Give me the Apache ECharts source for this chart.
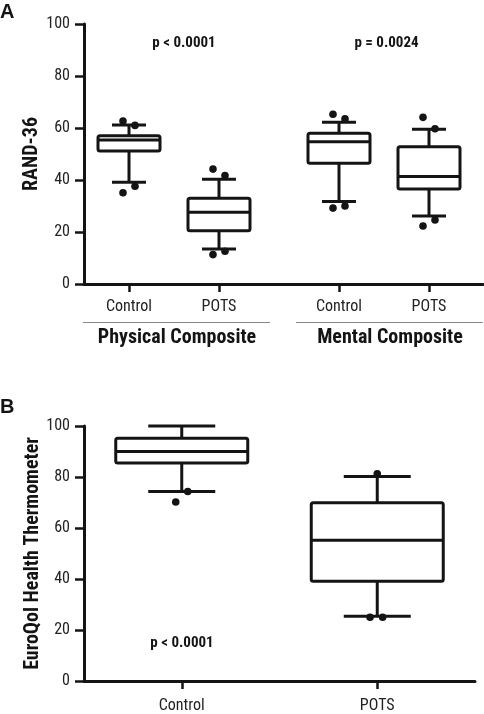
<!DOCTYPE html>
<html>
<head>
<meta charset="utf-8">
<script src="https://cdn.jsdelivr.net/npm/echarts@6/dist/echarts.min.js"></script>
<style>html,body{margin:0;padding:0;background:#fff}#c{width:484px;height:714px}</style>
</head>
<body>
<div id="c"></div>
<script>
// ---------- DATA ----------
// Panel A (RAND-36)
const catsA = ['Control', 'POTS', 'Control', 'POTS'];
const groupsA = ['Physical Composite', 'Mental Composite'];
// [low whisker, Q1, median, Q3, high whisker]
const boxA_PhysControl = [39.1, 51.2, 55.4, 57.0, 61.2];
const boxA_PhysPOTS    = [13.5, 20.5, 27.6, 33.0, 40.3];
const boxA_MentControl = [31.7, 46.4, 54.7, 58.0, 62.2];
const boxA_MentPOTS    = [26.2, 36.5, 41.3, 52.8, 59.5];
// outliers per box: [high-left, high-right, low-left, low-right]
const outA_PhysControl = [62.7, 61.0, 35.1, 37.6];
const outA_PhysPOTS    = [44.2, 41.7, 11.3, 12.6];
const outA_MentControl = [65.3, 63.5, 29.2, 30.0];
const outA_MentPOTS    = [64.1, 59.7, 22.3, 24.6];
const pTextA = ['p < 0.0001', 'p = 0.0024'];

// Panel B (EuroQol)
const catsB = ['Control', 'POTS'];
const boxB_Control = [74.3, 85.5, 90.0, 95.2, 100.0];
const boxB_POTS    = [25.4, 39.1, 55.2, 69.9, 80.2];
const outB_Control = [70.2, 74.3];
const outB_POTS    = [81.3, 25.0, 25.0];
const pTextB = 'p < 0.0001';

// ---------- LAYOUT ----------
const posA = [1.5, 4.5, 8.5, 11.5];        // x slots on panel A axis
const outSideA = [-1, 1, -1, 1];            // horizontal nudge direction of dots
const outSideB_Control = [-1, 1];
const outSideB_POTS = [0, -1.2, 0.9];
const DOT_NUDGE = 6;

const chart = echarts.init(document.getElementById('c'), null, {renderer: 'canvas'});
const FONT = '"Roboto Condensed", "Liberation Sans", Arial, sans-serif';
const INK = '#141414';

function boxRender(boxW, capW) {
  return function (params, api) {
    const x = api.value(0);
    const lo = api.coord([x, api.value(1)]);
    const q1 = api.coord([x, api.value(2)]);
    const md = api.coord([x, api.value(3)]);
    const q3 = api.coord([x, api.value(4)]);
    const hi = api.coord([x, api.value(5)]);
    const cx = md[0];
    const st = {stroke: INK, lineWidth: 3, fill: null};
    return {
      type: 'group',
      children: [
        {type: 'line', shape: {x1: cx, y1: hi[1], x2: cx, y2: q3[1]}, style: st},
        {type: 'line', shape: {x1: cx, y1: q1[1], x2: cx, y2: lo[1]}, style: st},
        {type: 'line', shape: {x1: cx - capW / 2, y1: hi[1], x2: cx + capW / 2, y2: hi[1]}, style: st},
        {type: 'line', shape: {x1: cx - capW / 2, y1: lo[1], x2: cx + capW / 2, y2: lo[1]}, style: st},
        {type: 'rect', shape: {x: cx - boxW / 2, y: q3[1], width: boxW, height: q1[1] - q3[1], r: 2}, style: {stroke: INK, lineWidth: 3, fill: '#fff'}},
        {type: 'line', shape: {x1: cx - boxW / 2, y1: md[1], x2: cx + boxW / 2, y2: md[1]}, style: st}
      ]
    };
  };
}
function dotRender(params, api) {
  const p = api.coord([api.value(0), api.value(1)]);
  return {type: 'circle', shape: {cx: p[0] + api.value(2) * DOT_NUDGE, cy: p[1], r: 3.8}, style: {fill: INK}};
}

const boxesA = [boxA_PhysControl, boxA_PhysPOTS, boxA_MentControl, boxA_MentPOTS].map((b, i) => [posA[i]].concat(b));
const outsA = [];
[outA_PhysControl, outA_PhysPOTS, outA_MentControl, outA_MentPOTS].forEach((arr, i) => {
  arr.forEach((v, j) => outsA.push([posA[i], v, outSideA[j]]));
});
const boxesB = [boxB_Control, boxB_POTS].map((b, i) => [i].concat(b));
const outsB = [];
outB_Control.forEach((v, j) => outsB.push([0, v, outSideB_Control[j]]));
outB_POTS.forEach((v, j) => outsB.push([1, v, outSideB_POTS[j]]));

const yAxisCommon = {
  type: 'value', min: 0, max: 100, interval: 20,
  axisLine: {show: true, lineStyle: {color: INK, width: 3}},
  axisTick: {show: true, length: 9, lineStyle: {color: INK, width: 2.5}},
  axisLabel: {color: '#222', fontFamily: FONT, fontSize: 16, margin: 14},
  splitLine: {show: false},
  nameLocation: 'middle', nameRotate: 90, nameMoveOverlap: false,
  nameTextStyle: {fontFamily: FONT, fontWeight: 'bold', fontSize: 20, color: INK}
};

const option = {
  animation: false,
  backgroundColor: '#fff',
  grid: [
    {left: 84, top: 24, width: 399, height: 260},
    {left: 84, top: 426, width: 391, height: 260}
  ],
  xAxis: [
    {
      gridIndex: 0, type: 'value', min: 0, max: 13.3,
      axisLine: {show: true, onZero: false, lineStyle: {color: INK, width: 3}},
      axisTick: {show: true, customValues: posA, length: 8, lineStyle: {color: INK, width: 2.5}},
      axisLabel: {show: true, customValues: posA, formatter: v => catsA[posA.indexOf(v)] || '',
                  color: '#222', fontFamily: FONT, fontSize: 16, margin: 15},
      splitLine: {show: false}
    },
    {
      gridIndex: 1, type: 'category', data: catsB, boundaryGap: true,
      axisLine: {show: true, onZero: false, lineStyle: {color: INK, width: 3}},
      axisTick: {show: true, alignWithLabel: true, length: 8, lineStyle: {color: INK, width: 2.5}},
      axisLabel: {color: '#222', fontFamily: FONT, fontSize: 16, margin: 17},
      splitLine: {show: false}
    }
  ],
  yAxis: [
    Object.assign({}, yAxisCommon, {gridIndex: 0, name: 'RAND-36', nameGap: 42}),
    Object.assign({}, yAxisCommon, {gridIndex: 1, name: 'EuroQol Health Thermometer', nameGap: 41})
  ],
  series: [
    {type: 'custom', xAxisIndex: 0, yAxisIndex: 0, data: boxesA, renderItem: boxRender(62, 34), clip: false, z: 3},
    {type: 'custom', xAxisIndex: 0, yAxisIndex: 0, data: outsA, renderItem: dotRender, clip: false, z: 4},
    {type: 'custom', xAxisIndex: 1, yAxisIndex: 1, data: boxesB, renderItem: boxRender(132, 67), clip: false, z: 3},
    {type: 'custom', xAxisIndex: 1, yAxisIndex: 1, data: outsB, renderItem: dotRender, clip: false, z: 4}
  ],
  graphic: [
    {type: 'text', left: 0, top: 2, style: {text: 'A', font: 'bold 20px "Liberation Sans", Arial, sans-serif', fill: INK}},
    {type: 'text', left: 0, top: 397, style: {text: 'B', font: 'bold 20px "Liberation Sans", Arial, sans-serif', fill: INK}},
    {type: 'text', x: 184, y: 43, style: {text: pTextA[0], font: 'bold 15px ' + FONT, fill: INK, align: 'center', verticalAlign: 'middle'}},
    {type: 'text', x: 386.5, y: 43, style: {text: pTextA[1], font: 'bold 15px ' + FONT, fill: INK, align: 'center', verticalAlign: 'middle'}},
    {type: 'text', x: 182, y: 643, style: {text: pTextB, font: 'bold 15px ' + FONT, fill: INK, align: 'center', verticalAlign: 'middle'}},
    {type: 'line', shape: {x1: 83, y1: 322.5, x2: 270, y2: 322.5}, style: {stroke: '#888', lineWidth: 1.2}},
    {type: 'line', shape: {x1: 296, y1: 322.5, x2: 483, y2: 322.5}, style: {stroke: '#888', lineWidth: 1.2}},
    {type: 'text', x: 177, y: 338, style: {text: groupsA[0], font: 'bold 20px ' + FONT, fill: INK, align: 'center', verticalAlign: 'middle'}},
    {type: 'text', x: 390, y: 338, style: {text: groupsA[1], font: 'bold 20px ' + FONT, fill: INK, align: 'center', verticalAlign: 'middle'}}
  ]
};
chart.setOption(option);
</script>
</body>
</html>
